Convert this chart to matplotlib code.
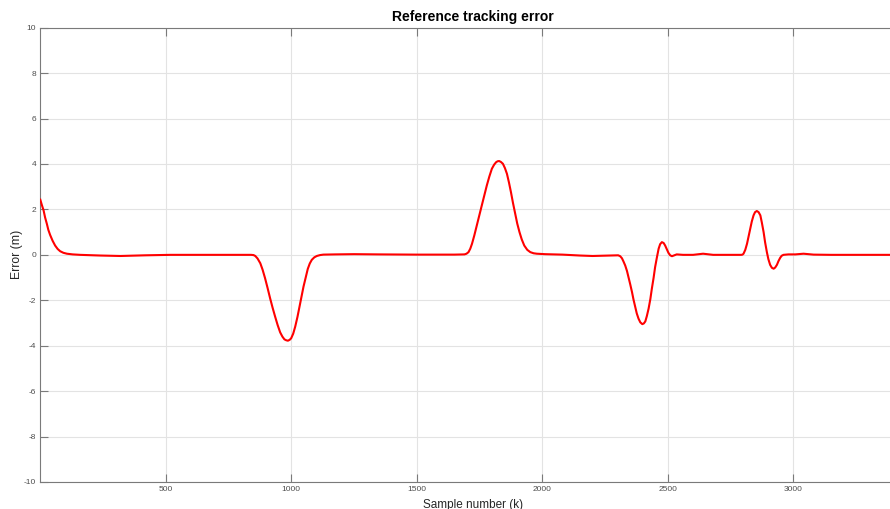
import matplotlib
matplotlib.use("Agg")
import matplotlib.pyplot as plt

plt.rcParams['font.family'] = ['Liberation Sans', 'DejaVu Sans']
plt.rcParams['axes.unicode_minus'] = False

# Tracking error samples (sample index k, error in metres)
sample_k = [
    1, 7, 14, 20, 27, 33, 40, 50, 60, 70, 80, 93, 107, 130, 160, 240, 320, 420, 520, 700, 840,
    850, 857, 866, 877, 886, 896, 906, 916, 926, 936, 946, 956, 965, 973, 980, 987, 994,
    1000, 1008, 1016, 1025, 1033, 1041, 1049, 1058, 1066, 1074, 1082, 1092, 1102, 1115,
    1128, 1175, 1250, 1350, 1500, 1650, 1690,
    1698, 1706, 1713, 1720, 1729, 1739, 1749, 1759, 1769, 1779, 1789, 1799, 1808, 1816,
    1822, 1828, 1835, 1843, 1851, 1859, 1867, 1875, 1883, 1892, 1900, 1909, 1918, 1928,
    1940, 1952, 1965, 1978, 2011, 2080, 2150, 2200, 2260, 2302,
    2310, 2317, 2323, 2330, 2337, 2343, 2350, 2357, 2363, 2370, 2376, 2383, 2390, 2398,
    2404, 2410, 2416, 2423, 2430, 2436, 2443, 2449, 2456, 2463, 2469, 2476, 2483, 2489,
    2496, 2502, 2509, 2516, 2525, 2535, 2560, 2600, 2640, 2680, 2750, 2792,
    2797, 2801, 2808, 2815, 2821, 2828, 2834, 2841, 2847, 2854, 2861, 2868, 2874, 2881,
    2887, 2894, 2900, 2907, 2914, 2921, 2927, 2934, 2940, 2947, 2953, 2960,
    2980, 3007, 3040, 3080, 3150, 3440,
]
error_m = [
    2.43, 2.20, 1.96, 1.65, 1.37, 1.10, 0.88, 0.62, 0.41, 0.26, 0.16, 0.09, 0.05, 0.02, 0.00, -0.03, -0.05, -0.02, 0.00, 0.00, 0.00,
    -0.01, -0.05, -0.16, -0.37, -0.65, -1.03, -1.46, -1.91, -2.33, -2.72, -3.09, -3.41, -3.60, -3.72, -3.76, -3.78, -3.74,
    -3.67, -3.47, -3.16, -2.73, -2.28, -1.83, -1.40, -0.98, -0.62, -0.38, -0.22, -0.11, -0.05, -0.01,
    0.01, 0.02, 0.03, 0.02, 0.01, 0.01, 0.02,
    0.05, 0.12, 0.27, 0.49, 0.85, 1.30, 1.74, 2.18, 2.62, 3.06, 3.45, 3.79, 3.97, 4.08,
    4.12, 4.13, 4.09, 4.01, 3.82, 3.57, 3.19, 2.76, 2.29, 1.81, 1.38, 1.00, 0.68, 0.41,
    0.22, 0.12, 0.07, 0.05, 0.03, 0.01, -0.03, -0.05, -0.03, -0.02,
    -0.06, -0.15, -0.29, -0.47, -0.71, -0.98, -1.30, -1.64, -1.97, -2.30, -2.58, -2.81, -2.97, -3.05,
    -3.02, -2.93, -2.70, -2.37, -1.95, -1.49, -1.01, -0.54, -0.12, 0.27, 0.47, 0.56, 0.52, 0.41,
    0.24, 0.09, -0.02, -0.06, -0.02, 0.02, 0.00, 0.00, 0.05, 0.00, 0.00, 0.00,
    0.01, 0.05, 0.22, 0.49, 0.80, 1.15, 1.47, 1.74, 1.88, 1.93, 1.88, 1.74, 1.42, 1.00,
    0.55, 0.12, -0.19, -0.44, -0.57, -0.61, -0.56, -0.44, -0.28, -0.13, -0.04, 0.00,
    0.02, 0.02, 0.05, 0.01, 0.00, 0.00,
]

x_ticks = [500, 1000, 1500, 2000, 2500, 3000]
y_ticks = [-10, -8, -6, -4, -2, 0, 2, 4, 6, 8, 10]

# The axes run a little past the right edge of the figure
fig = plt.figure(figsize=(8.9, 5.09), dpi=100)
left_px, right_px, top_px, bottom_px = 40.3, 905.0, 27.7, 482.0
ax = fig.add_axes([left_px / 890, 1 - bottom_px / 509,
                   (right_px - left_px) / 890, (bottom_px - top_px) / 509])

ax.plot(sample_k, error_m, color='#ff0000', linewidth=1.5,
        solid_joinstyle='round', zorder=3)

ax.set_xlim(1, 3444)
ax.set_ylim(-10, 10)
ax.set_xticks(x_ticks)
ax.set_yticks(y_ticks)

axis_grey = '#7a7a7a'
for side, spine in ax.spines.items():
    spine.set_color(axis_grey)
    spine.set_linewidth(0.8)

ax.grid(True, color='#e3e3e3', linewidth=0.8, zorder=0)
ax.set_axisbelow(True)
ax.tick_params(direction='in', length=6, width=0.8, colors=axis_grey,
               labelcolor='#4d4d4d', labelsize=6, top=True, right=False, pad=3)

ax.set_xlabel('Sample number (k)', fontsize=8.5, color='#262626', labelpad=4)
ax.set_ylabel('Error (m)', fontsize=8.8, color='#262626')
ax.yaxis.set_label_coords(-0.0195, 0.5)
ax.set_title('Reference tracking error', fontsize=10, fontweight='bold', color='black', pad=5)

fig.savefig('out.png', dpi=100)
